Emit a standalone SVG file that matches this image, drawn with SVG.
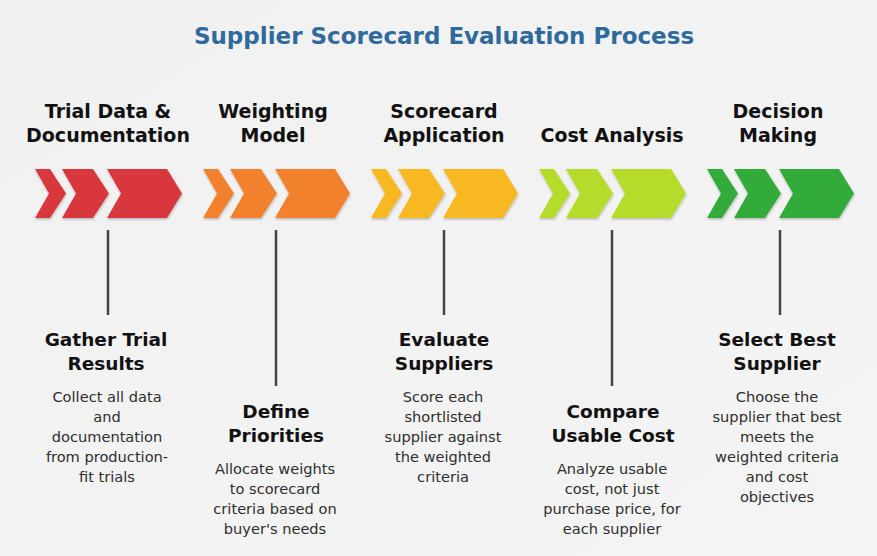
<svg xmlns="http://www.w3.org/2000/svg" width="877" height="556" viewBox="0 0 877 556">
<defs>
<linearGradient id="bg" x1="0" y1="0" x2="1" y2="1">
<stop offset="0" stop-color="#f1f1f1"/>
<stop offset="1" stop-color="#f4f4f4"/>
</linearGradient>
<filter id="sh" x="-10%" y="-10%" width="120%" height="130%">
<feDropShadow dx="0.5" dy="1.5" stdDeviation="1" flood-color="#000" flood-opacity="0.25"/>
</filter>
<g id="chev">
<path d="M0,0 H15 L31,24.5 L15,49 H0 L14,24.5 Z"/>
<path d="M27,0 H58 L74,24.5 L58,49 H27 L41,24.5 Z"/>
<path d="M72,0 H132 L147,24.5 L132,49 H72 L86,24.5 Z"/>
</g>
</defs>
<style>
.title{font-family:"DejaVu Sans",sans-serif;font-weight:700;font-size:23px;fill:#2f6a9c;text-anchor:middle}
.head{font-family:"DejaVu Sans",sans-serif;font-weight:700;font-size:19px;fill:#111;text-anchor:middle}
.sub{font-family:"DejaVu Sans",sans-serif;font-weight:700;font-size:18.5px;fill:#111;text-anchor:middle}
.body{font-family:"DejaVu Sans",sans-serif;font-weight:400;font-size:14.6px;fill:#2e2e2e;text-anchor:middle}
.conn{stroke:#47423b;stroke-width:2.5;stroke-linecap:butt;fill:none}
</style>
<rect width="877" height="556" fill="url(#bg)"/>
<text class="title" x="444" y="44">Supplier Scorecard Evaluation Process</text>

<g id="connectors">
<line class="conn" x1="108" y1="230" x2="108" y2="315"/>
<line class="conn" x1="276" y1="230" x2="276" y2="386"/>
<line class="conn" x1="444" y1="230" x2="444" y2="315"/>
<line class="conn" x1="612" y1="230" x2="612" y2="386"/>
<line class="conn" x1="780" y1="230" x2="780" y2="315"/>
</g>

<g id="step1">
<text class="head" x="108" y="118">Trial Data &amp;</text>
<text class="head" x="108" y="142">Documentation</text>
<use href="#chev" x="35" y="169" fill="#d8393e" filter="url(#sh)"/>
<text class="sub" x="106" y="346">Gather Trial</text>
<text class="sub" x="106" y="370">Results</text>
<text class="body" x="107" y="402">Collect all data</text>
<text class="body" x="107" y="422">and</text>
<text class="body" x="107" y="442">documentation</text>
<text class="body" x="107" y="462">from production-</text>
<text class="body" x="107" y="482">fit trials</text>
</g>

<g id="step2">
<text class="head" x="273" y="118">Weighting</text>
<text class="head" x="273" y="142">Model</text>
<use href="#chev" x="203" y="169" fill="#f2812f" filter="url(#sh)"/>
<text class="sub" x="276" y="418">Define</text>
<text class="sub" x="276" y="442">Priorities</text>
<text class="body" x="275" y="474">Allocate weights</text>
<text class="body" x="275" y="494">to scorecard</text>
<text class="body" x="275" y="514">criteria based on</text>
<text class="body" x="275" y="534">buyer's needs</text>
</g>

<g id="step3">
<text class="head" x="444" y="118">Scorecard</text>
<text class="head" x="444" y="142">Application</text>
<use href="#chev" x="371" y="169" fill="#f8b824" filter="url(#sh)"/>
<text class="sub" x="444" y="346">Evaluate</text>
<text class="sub" x="444" y="370">Suppliers</text>
<text class="body" x="443" y="402">Score each</text>
<text class="body" x="443" y="422">shortlisted</text>
<text class="body" x="443" y="442">supplier against</text>
<text class="body" x="443" y="462">the weighted</text>
<text class="body" x="443" y="482">criteria</text>
</g>

<g id="step4">
<text class="head" x="612" y="142">Cost Analysis</text>
<use href="#chev" x="539" y="169" fill="#b5dc2c" filter="url(#sh)"/>
<text class="sub" x="613" y="418">Compare</text>
<text class="sub" x="613" y="442">Usable Cost</text>
<text class="body" x="612" y="474">Analyze usable</text>
<text class="body" x="612" y="494">cost, not just</text>
<text class="body" x="612" y="514">purchase price, for</text>
<text class="body" x="612" y="534">each supplier</text>
</g>

<g id="step5">
<text class="head" x="778" y="118">Decision</text>
<text class="head" x="778" y="142">Making</text>
<use href="#chev" x="707" y="169" fill="#30ab3b" filter="url(#sh)"/>
<text class="sub" x="777" y="346">Select Best</text>
<text class="sub" x="777" y="370">Supplier</text>
<text class="body" x="777" y="402">Choose the</text>
<text class="body" x="777" y="422">supplier that best</text>
<text class="body" x="777" y="442">meets the</text>
<text class="body" x="777" y="462">weighted criteria</text>
<text class="body" x="777" y="482">and cost</text>
<text class="body" x="777" y="502">objectives</text>
</g>
</svg>
